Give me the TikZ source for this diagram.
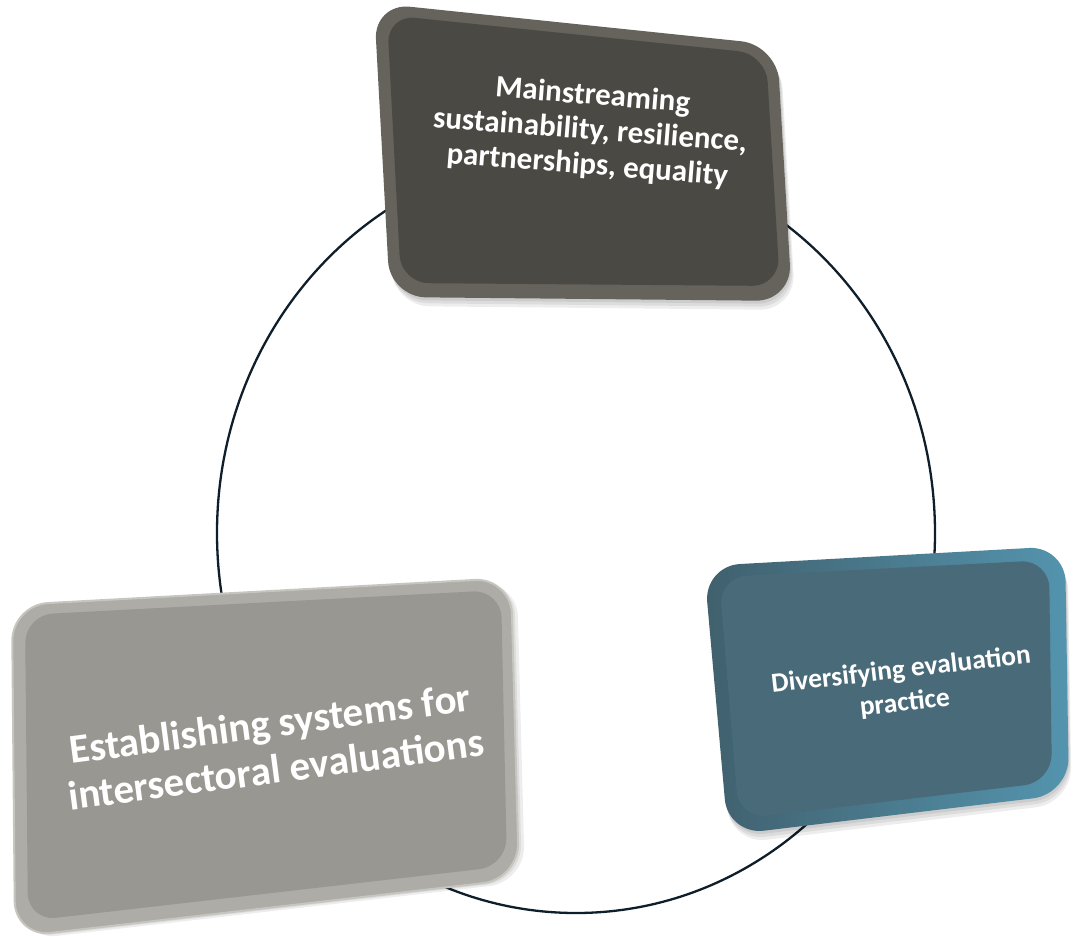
\documentclass[tikz,border=0pt]{standalone}
\usepackage{fontspec}
\setmainfont{Carlito}

\definecolor{ringline}{HTML}{0F1E2B}
\definecolor{darkface}{HTML}{4A4944}
\definecolor{darkrim}{HTML}{66635C}
\definecolor{greyface}{HTML}{999792}
\definecolor{greyrim}{HTML}{AEACA6}
\definecolor{greyedge}{HTML}{C6C5C0}
\definecolor{blueface}{HTML}{496A78}
\definecolor{bluerim}{HTML}{5494AE}
\definecolor{blueedge}{HTML}{40606D}

\begin{document}
\begin{tikzpicture}[x=1pt,y=-1pt,
  ring/.style={draw=ringline,line width=2.3pt},
  shadowpart/.style={fill=black,opacity=0.07,rounded corners=36pt},
  rimpart/.style={rounded corners=36pt},
  facepart/.style={rounded corners=28pt},
  boxtext/.style={text=white,align=center,inner sep=0pt}]

\useasboundingbox (0,0) rectangle (1074,937);

%\draw[gray!20,very thin] (0,0) grid[step=50] (1074,937); %helper grid

% ring behind the boxes
\coordinate (ringc) at (576,533);
\draw[ring] (ringc) ellipse [x radius=359, y radius=380];

% top box
\foreach \d in {3,6,9}
  \fill[shadowpart,shift={(\d*0.4,\d)}] (374,3) -- (777,45) -- (792,301) -- (390,297) -- cycle;
\fill[rimpart,darkrim] (374,3) -- (777,45) -- (792,301) -- (390,297) -- cycle;
\fill[facepart,darkface] (387,15) -- (766,54) -- (780,286) -- (401,283) -- cycle;

% left box
\foreach \d in {3,6}
  \fill[shadowpart,shift={(\d,\d*0.5)}] (12,605) -- (511,578) -- (519,879) -- (15,937) -- cycle;
\fill[rimpart,greyrim,draw=greyedge,line width=2pt] (12,605) -- (511,578) -- (519,879) -- (15,937) -- cycle;
\fill[facepart,greyface] (25,615) -- (501,590) -- (507,866) -- (28,921) -- cycle;

% right box
\foreach \d in {3,6,9}
  \fill[shadowpart,shift={(\d*0.3,\d)}] (704,566) -- (1065,546) -- (1069,794) -- (728,835) -- cycle;
\shade[rimpart,left color=blueedge,right color=bluerim] (704,566) -- (1065,546) -- (1069,794) -- (728,835) -- cycle;
\fill[facepart,blueface] (719,577) -- (1049,560) -- (1052,782) -- (739,819) -- cycle;

% texts
\node[boxtext,rotate=-4.5,font=\bfseries\fontsize{31}{35}\selectfont] (maintext) at (590,131)
  {Mainstreaming\\sustainability, resilience,\\partnerships, equality};
\node[boxtext,rotate=7.5,font=\bfseries\fontsize{41}{46}\selectfont] (systemtext) at (273,746)
  {Establishing systems for\\intersectoral evaluations};
\node[boxtext,rotate=6.5,font=\bfseries\fontsize{27.5}{33}\selectfont] (practicetext) at (903,687)
  {Diversifying evaluation\\practice};

\end{tikzpicture}
\end{document}
